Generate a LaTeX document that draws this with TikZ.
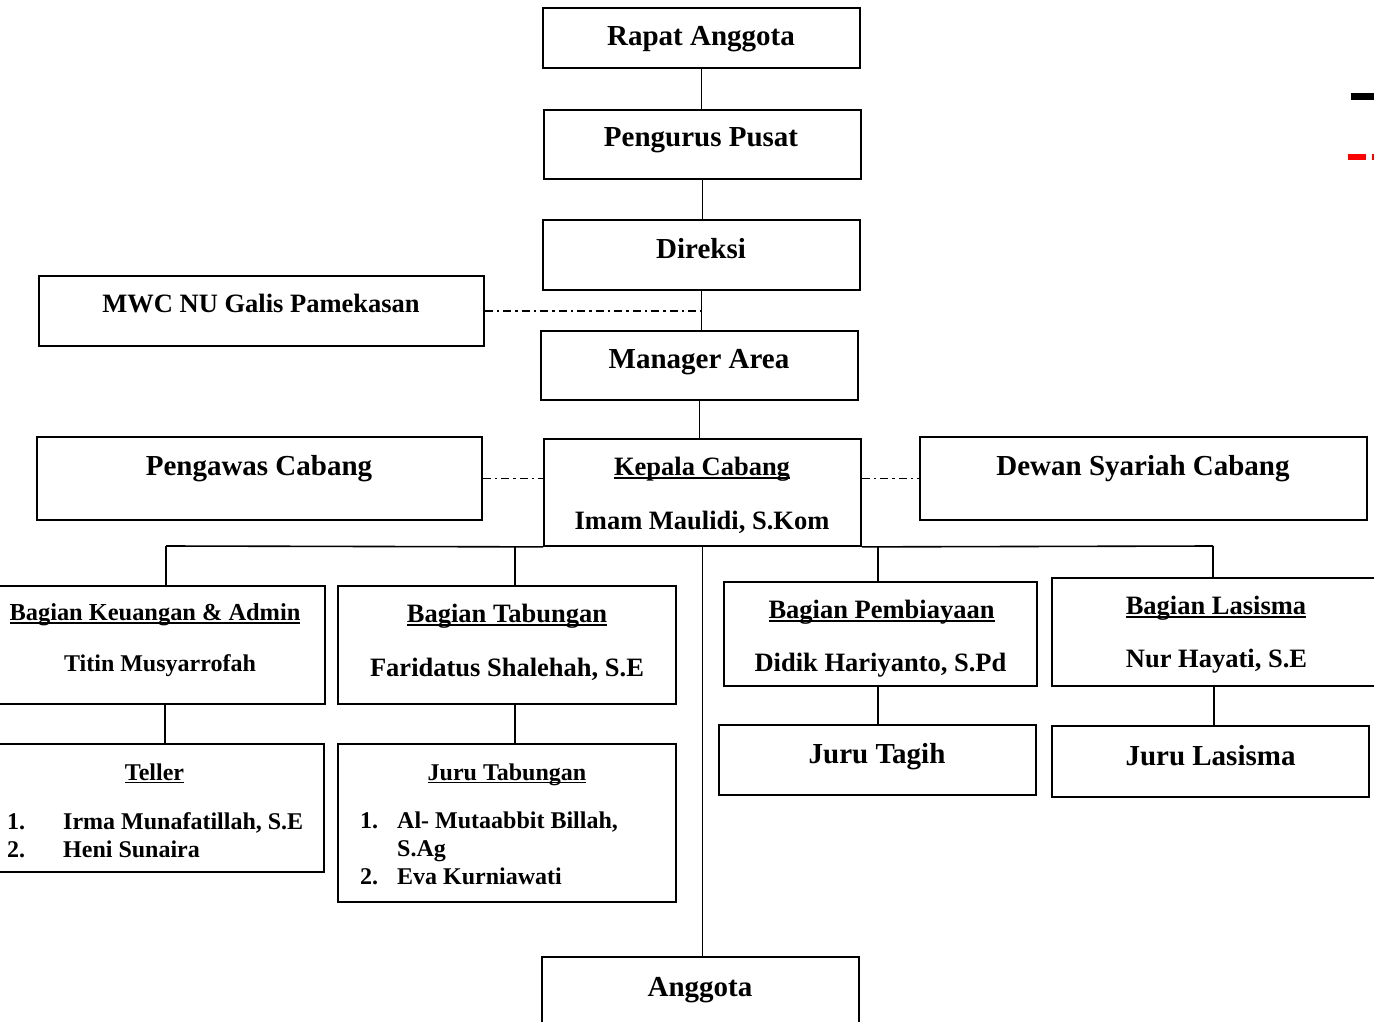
\documentclass[tikz,border=0pt]{standalone}
\usepackage{fontspec}
\setmainfont{Liberation Serif}
\newcommand\ulx[1]{\setbox0\hbox{#1}\rlap{\rule[-3.4pt]{\wd0}{1.8pt}}\box0}
\begin{document}
\begin{tikzpicture}[x=1pt,y=-1pt,
  box/.style={draw, line width=1.8pt, inner sep=0pt},
  conn/.style={line width=1.6pt},
  dashdot/.style={line width=1.6pt, dash pattern=on 8pt off 4pt on 2.5pt off 4pt},
  tA/.style={anchor=base, inner sep=0pt, font=\fontsize{29}{32}\selectfont\bfseries},
  tB/.style={anchor=base, inner sep=0pt, font=\fontsize{26.5}{30}\selectfont\bfseries},
  tC/.style={anchor=base, inner sep=0pt, font=\fontsize{24}{28}\selectfont\bfseries},
  tK/.style={anchor=base, inner sep=0pt, font=\fontsize{24.4}{28}\selectfont\bfseries}]
\useasboundingbox (0,0) rectangle (1374,1022);
\clip (0,0) rectangle (1374,1022);

% boxes
\node[box, minimum width=317pt, minimum height=60pt] (rapat) at (701.5,38) {};
\node[box, minimum width=317pt, minimum height=69pt] (pengurus) at (702.5,144.5) {};
\node[box, minimum width=317pt, minimum height=70pt] (direksi) at (701.5,255) {};
\node[box, minimum width=445pt, minimum height=70pt] (mwc) at (261.5,311) {};
\node[box, minimum width=317pt, minimum height=69pt] (manager) at (699.5,365.5) {};
\node[box, minimum width=445pt, minimum height=83pt] (pengawas) at (259.5,478.5) {};
\node[box, minimum width=317pt, minimum height=107pt] (kepala) at (702.5,492.5) {};
\node[box, minimum width=447pt, minimum height=83pt] (dewan) at (1143.5,478.5) {};
\node[box, minimum width=327pt, minimum height=118pt] (keu) at (161.5,645) {};
\node[box, minimum width=338pt, minimum height=118pt] (tab) at (507,645) {};
\node[box, minimum width=313pt, minimum height=104pt] (pemb) at (880.5,634) {};
\node[box, minimum width=328pt, minimum height=108pt] (las) at (1216,632) {};
\node[box, minimum width=326pt, minimum height=128pt] (teller) at (161,808) {};
\node[box, minimum width=338pt, minimum height=158pt] (jtab) at (507,823) {};
\node[box, minimum width=317pt, minimum height=70pt] (jtagih) at (877.5,760) {};
\node[box, minimum width=317pt, minimum height=71pt] (jlas) at (1210.5,761.5) {};
\node[box, minimum width=317pt, minimum height=70pt] (anggota) at (700.5,992) {};

% connectors
\draw[conn] (rapat.south) -- (rapat.south |- pengurus.north);
\draw[conn] (pengurus.south) -- (pengurus.south |- direksi.north);
\draw[conn] (direksi.south) -- (direksi.south |- manager.north);
\draw[dashdot] (mwc.east) -- (mwc.east -| direksi.south);
\draw[conn] (manager.south) -- (manager.south |- kepala.north);
\draw[dashdot] (pengawas.east) -- (pengawas.east -| kepala.west);
\draw[dashdot] (dewan.west -| kepala.east) -- (dewan.west);

\coordinate (b1) at (166,546);
\coordinate (b2) at (515,546);
\coordinate (b3) at (878,546);
\coordinate (b4) at (1213,546);
\draw[conn] (b1) -- (kepala.south west);
\draw[conn] (kepala.south east) -- (b4);
\draw[conn] (b1) -- (b1 |- keu.north);
\draw[conn] (b2) -- (b2 |- tab.north);
\draw[conn] (b3) -- (b3 |- pemb.north);
\draw[conn] (b4) -- (b4 |- las.north);
\draw[conn] (kepala.south) -- (kepala.south |- anggota.north);

\coordinate (c1) at (165,704);
\coordinate (c2) at (515,704);
\coordinate (c3) at (878,686);
\coordinate (c4) at (1214,686);
\draw[conn] (c1) -- (c1 |- teller.north);
\draw[conn] (c2) -- (c2 |- jtab.north);
\draw[conn] (c3) -- (c3 |- jtagih.north);
\draw[conn] (c4) -- (c4 |- jlas.north);

% texts
\node[tA] (trapat) at (701,46) {Rapat Anggota};
\node[tA] (tpengurus) at (701,147) {Pengurus Pusat};
\node[tA] (tdireksi) at (701,258) {Direksi};
\node[tB] (tmwc) at (261,312.5) {MWC NU Galis Pamekasan};
\node[tA] (tmanager) at (699,368) {Manager Area};
\node[tA] (tpengawas) at (259,475) {Pengawas Cabang};
\node[tB] (tkepala) at (702,475.5) {\ulx{Kepala Cabang}};
\node[tB] (timam) at (702,529.5) {Imam Maulidi, S.Kom};
\node[tA] (tdewan) at (1143,475) {Dewan Syariah Cabang};
\node[tK] (tkeu) at (155,620.5) {\ulx{Bagian Keuangan \& Admin}};
\node[tC] (ttitin) at (160,671) {Titin Musyarrofah};
\node[tB] (ttab) at (507,622.5) {\ulx{Bagian Tabungan}};
\node[tB] (tfari) at (507,676.5) {Faridatus Shalehah, S.E};
\node[tB] (tpemb) at (881.5,618.5) {\ulx{Bagian Pembiayaan}};
\node[tB] (tdidik) at (880.5,671.5) {Didik Hariyanto, S.Pd};
\node[tB] (tlas) at (1216,614.5) {\ulx{Bagian Lasisma}};
\node[tB] (tnur) at (1216.5,667.5) {Nur Hayati, S.E};
\node[tC] (tteller) at (154.5,780) {\ulx{Teller}};
\node[tC, anchor=base west] (tn1) at (7,829) {1.};
\node[tC, anchor=base west] (ti1) at (63,829) {Irma Munafatillah, S.E};
\node[tC, anchor=base west] (tn2) at (7,857) {2.};
\node[tC, anchor=base west] (ti2) at (63,857) {Heni Sunaira};
\node[tC] (tjtab) at (507,780) {\ulx{Juru Tabungan}};
\node[tC, anchor=base west] (tm1) at (360,828) {1.};
\node[tC, anchor=base west] (tj1) at (397,828) {Al- Mutaabbit Billah,};
\node[tC, anchor=base west] (tj1b) at (397,856) {S.Ag};
\node[tC, anchor=base west] (tm2) at (360,884) {2.};
\node[tC, anchor=base west] (tj2) at (397,884) {Eva Kurniawati};
\node[tA] (tjtagih) at (877,763) {Juru Tagih};
\node[tA] (tjlas) at (1210.5,765) {Juru Lasisma};
\node[tA] (tanggota) at (700,996) {Anggota};

% cut-off marks at top right
\fill[black] (1351,93) rectangle (1376,100);
\fill[red] (1348,154) rectangle (1366,160);
\fill[red] (1372,154) rectangle (1376,160);
\end{tikzpicture}
\end{document}
